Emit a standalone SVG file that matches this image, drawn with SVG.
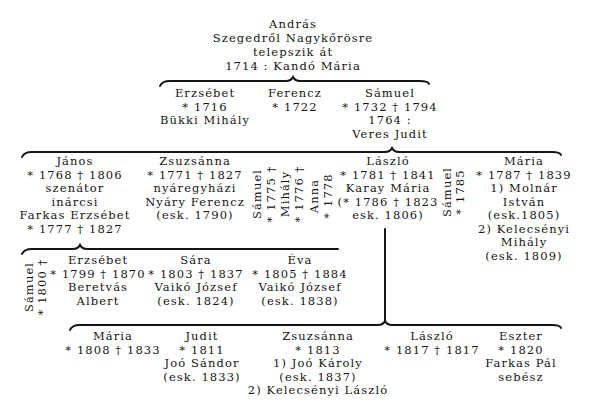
<svg xmlns="http://www.w3.org/2000/svg" width="592" height="419" viewBox="0 0 592 419">
<style>
text{font-family:"DejaVu Serif","Liberation Serif",serif;font-size:11.5px;fill:#151515;text-anchor:middle;letter-spacing:1.1px}
.ln{fill:none;stroke:#151515;stroke-width:2;stroke-linecap:round}
</style>
<rect width="592" height="419" fill="#fff"/>
<g id="connectors">
<path class="ln" d="M160,86 Q162,81 170,81 L286,81 Q291,81 293,77 Q295,81 300,81 L420,81 Q428,81 429,84"/>
<path class="ln" d="M22,157 Q24,152 32,152 L385,152 Q390,152 392,148 Q394,152 399,152 L552,152 Q560,152 561,155"/>
<path class="ln" d="M22,254 Q24,249 32,249 L73,249 Q78,249 80,245 Q82,249 87,249 L338,249"/>
<path class="ln" d="M70,330 Q72,325 80,325 L378,325 Q383,325 385,321 Q387,325 392,325 L552,325 Q560,325 561,328"/>
<line class="ln" x1="385" y1="229" x2="385" y2="321" stroke-width="2.5"/>
</g>
<g id="andras">
<text x="293" y="28">András</text>
<text x="293" y="42">Szegedről Nagykőrösre</text>
<text x="293" y="56">telepszik át</text>
<text x="293" y="70">1714 : Kandó Mária</text>
</g>
<g id="erzsebet1">
<text x="205" y="97">Erzsébet</text>
<text x="205" y="110.5">* 1716</text>
<text x="205" y="124">Bükki Mihály</text>
</g>
<g id="ferencz">
<text x="295" y="97">Ferencz</text>
<text x="295" y="110.5">* 1722</text>
</g>
<g id="samuel1">
<text x="390" y="97">Sámuel</text>
<text x="390" y="110.5">* 1732 † 1794</text>
<text x="390" y="124">1764 :</text>
<text x="390" y="137.5">Veres Judit</text>
</g>
<g id="janos">
<text x="75" y="165">János</text>
<text x="75" y="178.5">* 1768 † 1806</text>
<text x="75" y="192">szenátor</text>
<text x="75" y="205.5">inárcsi</text>
<text x="75" y="219">Farkas Erzsébet</text>
<text x="75" y="232.5">* 1777 † 1827</text>
</g>
<g id="zsuzsanna1">
<text x="195" y="165">Zsuzsánna</text>
<text x="195" y="178.5">* 1771 † 1827</text>
<text x="195" y="192">nyáregyházi</text>
<text x="195" y="205.5">Nyáry Ferencz</text>
<text x="195" y="219">(esk. 1790)</text>
</g>
<g id="samuel2">
<text transform="translate(261,194) rotate(-90)">Sámuel</text>
<text transform="translate(275,194) rotate(-90)">* 1775 †</text>
</g>
<g id="mihaly">
<text transform="translate(289,194) rotate(-90)">Mihály</text>
<text transform="translate(303,194) rotate(-90)">* 1776 †</text>
</g>
<g id="anna">
<text transform="translate(318,196) rotate(-90)">Anna</text>
<text transform="translate(332,196) rotate(-90)">* 1778</text>
</g>
<g id="laszlo1">
<text x="388" y="165">László</text>
<text x="388" y="178.5">* 1781 † 1841</text>
<text x="388" y="192">Karay Mária</text>
<text x="388" y="205.5">(* 1786 † 1823</text>
<text x="388" y="219">esk. 1806)</text>
</g>
<g id="samuel3">
<text transform="translate(451,192) rotate(-90)">Sámuel</text>
<text transform="translate(464,192) rotate(-90)">* 1785</text>
</g>
<g id="maria1">
<text x="524" y="165">Mária</text>
<text x="524" y="178.5">* 1787 † 1839</text>
<text x="524" y="192">1) Molnár</text>
<text x="524" y="205.5">István</text>
<text x="524" y="219">(esk.1805)</text>
<text x="524" y="232.5">2) Kelecsényi</text>
<text x="524" y="246">Mihály</text>
<text x="524" y="259.5">(esk. 1809)</text>
</g>
<g id="samuel4">
<text transform="translate(33,287) rotate(-90)">Sámuel</text>
<text transform="translate(46,287) rotate(-90)">* 1800 †</text>
</g>
<g id="erzsebet2">
<text x="98" y="264">Erzsébet</text>
<text x="98" y="277.5">* 1799 † 1870</text>
<text x="98" y="291">Beretvás</text>
<text x="98" y="304.5">Albert</text>
</g>
<g id="sara">
<text x="196" y="264">Sára</text>
<text x="196" y="277.5">* 1803 † 1837</text>
<text x="196" y="291">Vaikó József</text>
<text x="196" y="304.5">(esk. 1824)</text>
</g>
<g id="eva">
<text x="300" y="264">Éva</text>
<text x="300" y="277.5">* 1805 † 1884</text>
<text x="300" y="291">Vaikó József</text>
<text x="300" y="304.5">(esk. 1838)</text>
</g>
<g id="maria2">
<text x="113" y="340">Mária</text>
<text x="113" y="353.5">* 1808 † 1833</text>
</g>
<g id="judit">
<text x="202" y="340">Judit</text>
<text x="202" y="353.5">* 1811</text>
<text x="202" y="367">Joó Sándor</text>
<text x="202" y="380.5">(esk. 1833)</text>
</g>
<g id="zsuzsanna2">
<text x="318" y="340">Zsuzsánna</text>
<text x="318" y="353.5">* 1813</text>
<text x="318" y="367">1) Joó Károly</text>
<text x="318" y="380.5">(esk. 1837)</text>
<text x="318" y="394">2) Kelecsényi László</text>
</g>
<g id="laszlo2">
<text x="432" y="340">László</text>
<text x="432" y="353.5">* 1817 † 1817</text>
</g>
<g id="eszter">
<text x="521" y="340">Eszter</text>
<text x="521" y="353.5">* 1820</text>
<text x="521" y="367">Farkas Pál</text>
<text x="521" y="380.5">sebész</text>
</g>
</svg>
